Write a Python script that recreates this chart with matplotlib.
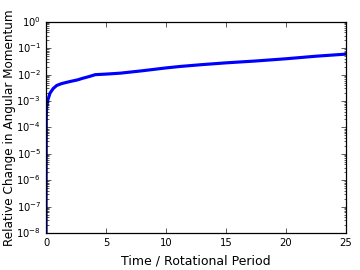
import matplotlib
matplotlib.use("Agg")
import matplotlib.pyplot as plt

plt.style.use('classic')

time = [0.0, 0.0, 0.02, 0.06, 0.15, 0.33, 0.6, 0.89, 1.3, 2.0, 2.6, 3.1, 3.6, 4.1, 5.0, 6.2, 8.0, 10.0, 11.2, 13.0, 15.0, 17.5, 20.0, 22.5, 25.0]
dL = [1e-8, 1e-7, 3e-4, 6.3e-4, 1.1e-3, 2.0e-3, 3.0e-3, 3.9e-3, 4.6e-3, 5.5e-3, 6.3e-3, 7.4e-3, 8.5e-3, 1.0e-2, 1.05e-2, 1.14e-2, 1.4e-2, 1.8e-2, 2.05e-2, 2.4e-2, 2.8e-2, 3.3e-2, 4.0e-2, 5.0e-2, 6.0e-2]

fig = plt.figure(figsize=(4, 3), dpi=90)
ax = fig.add_axes([0.128, 0.137, 0.833, 0.782])
ax.semilogy(time, dL, color='b', lw=2.5)
ax.set_xlim(0, 25)
ax.set_ylim(1e-8, 1)
ax.set_xlabel('Time / Rotational Period', fontsize=10)
ax.set_ylabel('Relative Change in Angular Momentum', fontsize=9.6)
ax.yaxis.set_label_coords(-0.1, 0.5)
ax.tick_params(labelsize=8)
fig.savefig('out.png', dpi=90)
